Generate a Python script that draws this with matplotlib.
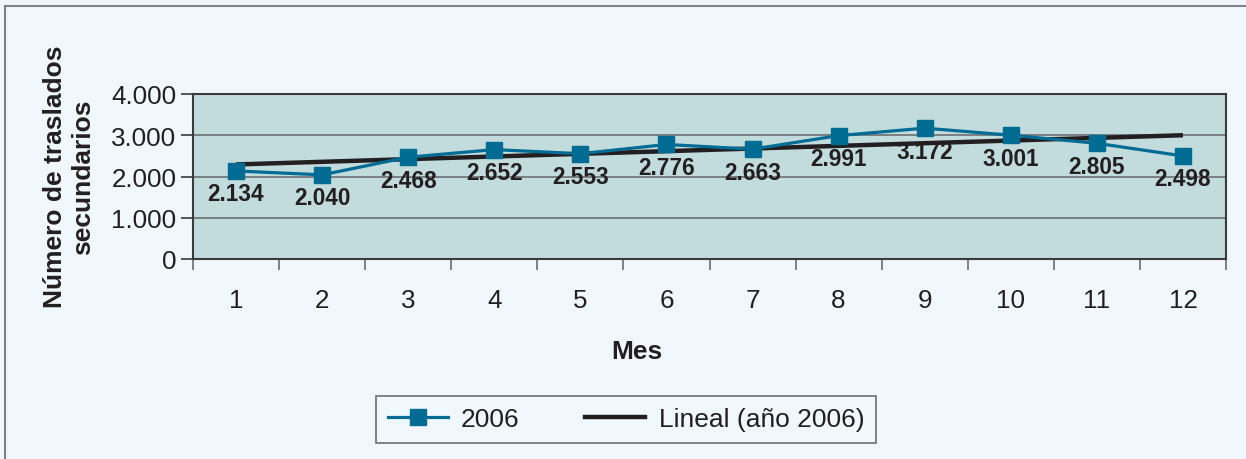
import matplotlib
matplotlib.use("Agg")
import matplotlib.pyplot as plt
import numpy as np
from matplotlib.lines import Line2D
from matplotlib.patches import Rectangle

months = [1, 2, 3, 4, 5, 6, 7, 8, 9, 10, 11, 12]
values = [2134, 2040, 2468, 2652, 2553, 2776, 2663, 2991, 3172, 3001, 2805, 2498]
value_labels = ["2.134", "2.040", "2.468", "2.652", "2.553", "2.776",
                "2.663", "2.991", "3.172", "3.001", "2.805", "2.498"]
yticks = [0, 1000, 2000, 3000, 4000]
ytick_labels = ["0", "1.000", "2.000", "3.000", "4.000"]
series_name = "2006"
trend_name = "Lineal (año 2006)"
xlabel = "Mes"
ylabel = "Número de traslados\nsecundarios"

plt.rcParams['font.family'] = ['Liberation Sans', 'DejaVu Sans']

W, H = 1246, 460
BG = "#F0F8FE"
PLOT_BG = "#C2DCDD"
SERIES = "#006C94"
TXT = "#231F20"
GRID = "#6D6E71"

fig = plt.figure(figsize=(W / 100, H / 100), dpi=100, facecolor=BG)
L, R, T, B = 193, 1226, 95, 260
ax = fig.add_axes([L / W, 1 - B / H, (R - L) / W, (B - T) / H])
ax.set_facecolor(PLOT_BG)

ax.set_xlim(0.5, 12.5)
ax.set_ylim(0, 4000)

# grid
ax.set_yticks(yticks)
ax.set_yticklabels(ytick_labels, fontsize=18.7, color=TXT)
ax.yaxis.grid(True, color=GRID, linewidth=1.2)
ax.set_axisbelow(True)
ax.tick_params(axis='y', direction='out', length=9, width=1.2, color="#3a3a3a", pad=3)

ax.set_xticks(np.arange(0.5, 13, 1.0))
ax.set_xticklabels([])
ax.tick_params(axis='x', which='major', direction='out', length=8, width=1.2, color="#6d6e71")
ax.set_xticks(months, minor=True)
ax.set_xticklabels([str(m) for m in months], minor=True, fontsize=18.7, color=TXT)
ax.tick_params(axis='x', which='minor', length=0, pad=21)

for s in ax.spines.values():
    s.set_color("#3a3a3a")
    s.set_linewidth(1.5)

# trend line
coef = np.polyfit(months, values, 1)
xt = np.array([months[0], months[-1]])
ax.plot(xt, np.polyval(coef, xt), color=TXT, linewidth=3.2, zorder=3, solid_capstyle='butt')

# series
ax.plot(months, values, color=SERIES, linewidth=2.3, marker='s', markersize=11,
        markerfacecolor=SERIES, markeredgecolor=SERIES, zorder=4)

for m, v, lab in zip(months, values, value_labels):
    ax.annotate(lab, (m, v), xytext=(0, -16.5), textcoords='offset points',
                ha='center', va='center', fontsize=16.3, fontweight='bold', color=TXT, zorder=5)

# axis titles
fig.text(637 / W, 1 - 352 / H, xlabel, ha='center', va='center', fontsize=19,
         fontweight='bold', color=TXT)
fig.text(69 / W, 1 - 177 / H, ylabel, ha='center', va='center', fontsize=19,
         fontweight='bold', color=TXT, rotation=90, linespacing=1.2, multialignment='center')

# legend
handles = [
    Line2D([], [], color=SERIES, linewidth=2.3, marker='s', markersize=11,
           markerfacecolor=SERIES, markeredgecolor=SERIES),
    Line2D([], [], color=TXT, linewidth=3.2),
]
leg = fig.legend(handles, [series_name, trend_name], loc='center',
                 bbox_to_anchor=(626 / W, 1 - 420.5 / H), ncol=2, fontsize=19,
                 frameon=True, fancybox=False, facecolor=BG, edgecolor=GRID, framealpha=1,
                 handlelength=2.27, handletextpad=0.5, columnspacing=2.5,
                 borderpad=0.45, borderaxespad=0)
for t in leg.get_texts():
    t.set_color(TXT)
leg.get_frame().set_linewidth(1.2)

# outer frame (top and left lines)
fig.add_artist(Line2D([5 / W, 5 / W], [0, 1 - 7 / H], transform=fig.transFigure,
                      color="#808285", linewidth=1.5))
fig.add_artist(Line2D([5 / W, 1], [1 - 7 / H, 1 - 7 / H], transform=fig.transFigure,
                      color="#808285", linewidth=1.5))

fig.savefig("out.png", dpi=100, facecolor=BG)
